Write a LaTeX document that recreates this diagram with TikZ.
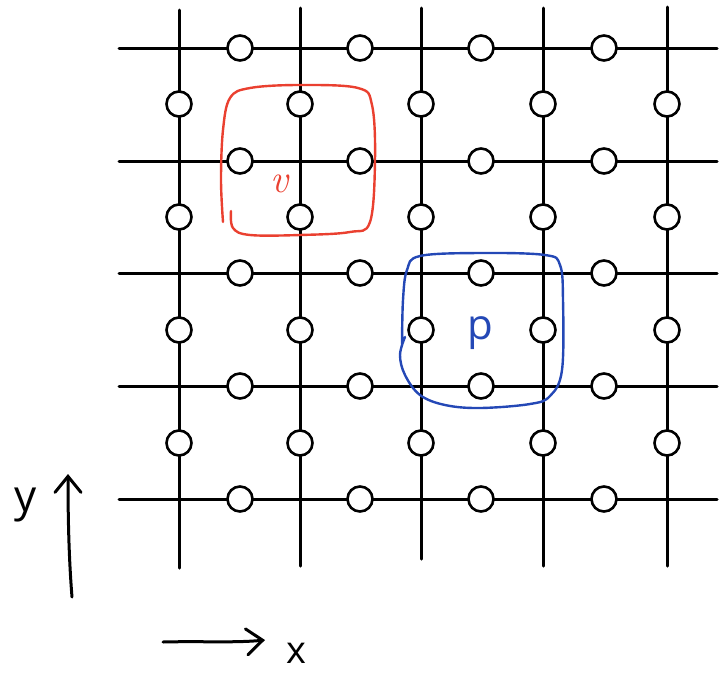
\documentclass[tikz,border=0pt]{standalone}
\usepackage{fontspec}
\setsansfont{Open Sans}
\usetikzlibrary{arrows.meta}
\definecolor{loopred}{RGB}{234,64,48}
\definecolor{loopblue}{RGB}{36,72,182}
\begin{document}
\begin{tikzpicture}[x=1pt,y=-1pt,line width=3pt,
  qubit/.style={circle,draw,fill=white,minimum size=25pt,inner sep=0pt,line width=2.6pt},
  gridline/.style={line width=3pt,line cap=round},
  loopline/.style={line width=2.4pt,line cap=round,line join=round},
  axisarrow/.style={line width=3pt,line cap=round,-{Straight Barb[length=16pt,width=26pt,line cap=round]}},
  lbl/.style={inner sep=0pt,font=\sffamily}]
\useasboundingbox (0,0) rectangle (725,675);
% vertical lines
\foreach \x/\t/\b [count=\i] in {179/10/568,300/8/566,421/8/559,543/8/566,667/7/566}{
  \coordinate (vt\i) at (\x,\t);
  \coordinate (vb\i) at (\x,\b);
  \draw[gridline] (vt\i) -- (vb\i);
}
% horizontal lines
\foreach \y [count=\j] in {48,161,273,386,499}{
  \coordinate (hl\j) at (119,\y);
  \coordinate (hr\j) at (717,\y);
  \draw[gridline] (hl\j) -- (hr\j);
}
% qubits on horizontal edges
\foreach \y [count=\j] in {48,161,273,386,499}{
  \foreach \x [count=\i] in {240,360,481,604}{
    \node[qubit] (h-\i-\j) at (\x,\y) {};
  }
}
% qubits on vertical edges
\foreach \x [count=\i] in {179,300,421,543,667}{
  \foreach \y [count=\j] in {104,217,330,443}{
    \node[qubit] (v-\i-\j) at (\x,\y) {};
  }
}
% vertex operator loop
\draw[loopline,loopred] plot[smooth,tension=0.6] coordinates {(231,211) (233,228) (250,235) (300,235) (350,232) (370,222) (375,160) (372,105) (358,88) (300,85) (250,88) (230,98) (223,130) (221,180) (223,222)};
\node[lbl,text=loopred,font=\rmfamily\itshape\fontsize{40}{40}\selectfont] (v) at (279,184) {v};
% plaquette operator loop
\draw[loopline,loopblue] plot[smooth,tension=0.6] coordinates {(405,337) (400,355) (405,375) (420,395) (445,405) (480,408) (530,404) (550,396) (562,370) (563,300) (560,265) (545,255) (480,253) (420,256) (407,270) (403,300) (402,345)};
\node[lbl,text=loopblue,font=\sffamily\fontsize{42}{42}\selectfont] (p) at (480,333) {p};
% axes
\coordinate (ya) at (72,597);
\coordinate (yb) at (68,474);
\draw[axisarrow] (ya) .. controls (69,560) and (68,520) .. (yb);
\node[lbl,font=\sffamily\fontsize{44}{44}\selectfont] (ylab) at (26,505) {y};
\coordinate (xa) at (163,642);
\coordinate (xb) at (265,640);
\draw[axisarrow] (xa) .. controls (200,641) and (235,643) .. (xb);
\node[lbl,font=\sffamily\fontsize{38}{38}\selectfont] (xlab) at (296,653) {x};
\end{tikzpicture}
\end{document}
